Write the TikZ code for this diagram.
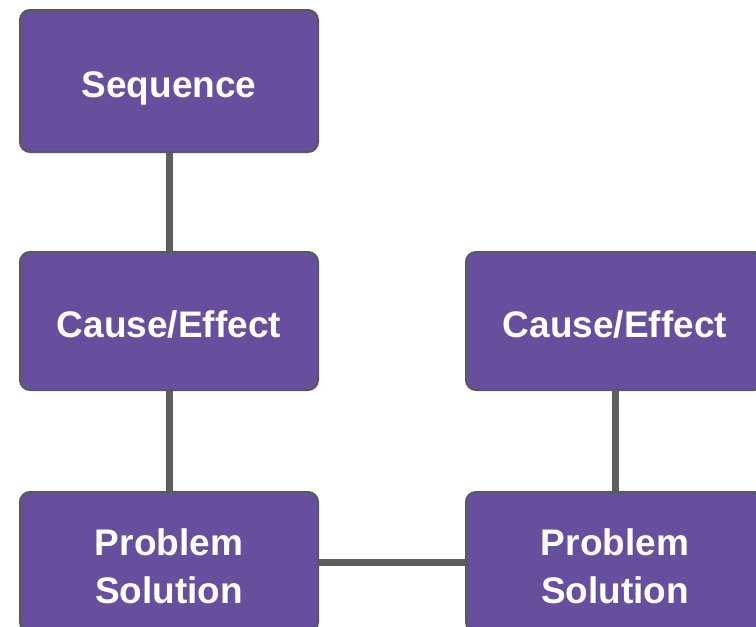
\documentclass[tikz,border=0pt]{standalone}
\usepackage{fontspec}
\setmainfont{Liberation Sans}
\usetikzlibrary{backgrounds}
\definecolor{boxfill}{HTML}{664F9D}
\definecolor{boxline}{HTML}{595959}
\definecolor{conn}{HTML}{5E5E5E}
\tikzset{
  card/.style={draw=boxline, line width=2pt, fill=boxfill, rounded corners=10pt,
    minimum width=298pt, minimum height=140pt, inner sep=0pt},
  cardtext/.style={text=white, font=\fontsize{37}{48}\selectfont\bfseries,
    align=center, inner sep=0pt},
  link/.style={draw=conn, line width=7pt}
}
\begin{document}
\begin{tikzpicture}[x=1pt,y=-1pt]
\path[use as bounding box] (0,0) rectangle (756,627);
\clip (0,0) rectangle (756,627);
\node[card, minimum height=142pt] (seq) at (169,81) {};
\node[card, minimum height=138pt] (ce1) at (169,321) {};
\node[card, minimum height=138pt] (ce2) at (615,321) {};
\node[card] (ps1) at (169,562) {};
\node[card] (ps2) at (615,562) {};
\node[cardtext] (seqt) at ([yshift=-7pt]seq.center) {Sequence};
\node[cardtext] (ce1t) at ([yshift=-3pt]ce1.center) {Cause/Effect};
\node[cardtext] (ce2t) at ([yshift=-3pt]ce2.center) {Cause/Effect};
\node[cardtext] (ps1t) at ([yshift=-4pt]ps1.center) {Problem\\Solution};
\node[cardtext] (ps2t) at ([yshift=-4pt]ps2.center) {Problem\\Solution};
\begin{pgfonlayer}{background}
\draw[link] (seq) -- (ce1);
\draw[link] (ce1) -- (ps1);
\draw[link] (ce2) -- (ps2);
\draw[link] (ps1) -- (ps2);
\end{pgfonlayer}
\end{tikzpicture}
\end{document}
